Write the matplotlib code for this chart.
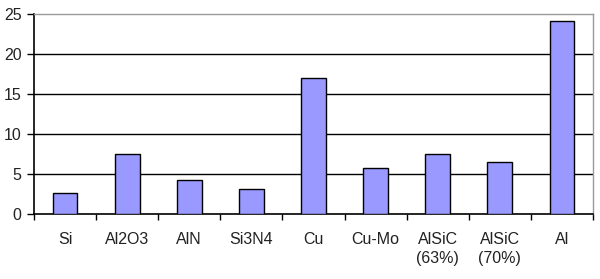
import matplotlib
matplotlib.use("Agg")
import matplotlib.pyplot as plt
import numpy as np

categories = ["Si", "Al2O3", "AlN", "Si3N4", "Cu", "Cu-Mo", "AlSiC\n(63%)", "AlSiC\n(70%)", "Al"]
values = [2.6, 7.5, 4.2, 3.1, 17.0, 5.8, 7.5, 6.5, 24.1]
yticks = [0, 5, 10, 15, 20, 25]

plt.rcParams['font.family'] = ['Liberation Sans', 'DejaVu Sans']

fig = plt.figure(figsize=(6.0, 2.79), dpi=100)
ax = fig.add_axes([34/600, 1-214/279, (593-34)/600, 200/279])

x = np.arange(len(categories))
ax.bar(x, values, width=0.4, color='#9999FF', edgecolor='black', linewidth=1.0, zorder=3)

ax.set_xlim(-0.5, len(categories) - 0.5)
ax.set_ylim(0, 25)
ax.set_yticks(yticks)
ax.set_yticklabels([str(v) for v in yticks], fontsize=11.5, color='#222222')
for v in yticks[1:-1]:
    ax.axhline(v, color='black', linewidth=1.0, zorder=1)

ax.set_xticks(np.arange(len(categories) + 1) - 0.5)
ax.set_xticklabels([])
ax.set_xticks(x, minor=True)
ax.set_xticklabels(categories, minor=True, fontsize=11.5, linespacing=1.35, va='top', color='#222222')
ax.tick_params(axis='x', which='minor', length=0, pad=13)
ax.tick_params(axis='x', which='major', length=4, width=1, color='black', direction='out')
ax.tick_params(axis='y', length=5, width=1, direction='out', pad=4)

for s in ['left', 'bottom']:
    ax.spines[s].set_color('black')
    ax.spines[s].set_linewidth(1.2)
for s in ['top', 'right']:
    ax.spines[s].set_color('#999999')
    ax.spines[s].set_linewidth(1.0)

fig.savefig("out.png", dpi=100)
